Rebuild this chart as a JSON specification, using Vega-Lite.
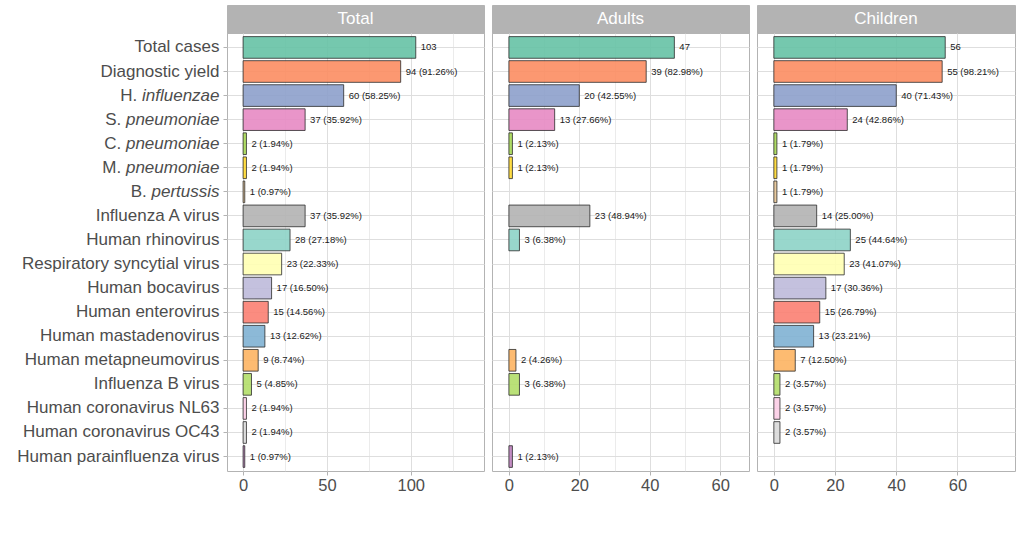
{
  "$schema": "https://vega.github.io/schema/vega-lite/v6.json",
  "padding": {"left": 16, "top": 4, "right": 5, "bottom": 5},
  "background": "white",
  "config": {
    "font": "Liberation Sans",
    "view": {"stroke": "#b3b3b3", "strokeWidth": 1},
    "axis": {"labelFont": "Liberation Sans", "labelFontSize": 16.5, "labelColor": "#4d4d4d", "tickColor": "#b3b3b3", "tickSize": 4, "domain": false, "gridColor": "#dedede", "title": null}
  },
  "datasets": {
    "d": [
      {"group": "Total", "cat": "Total cases", "n": 103, "label": "103"},
      {"group": "Total", "cat": "Diagnostic yield", "n": 94, "label": "94 (91.26%)"},
      {"group": "Total", "cat": "H. influenzae", "n": 60, "label": "60 (58.25%)"},
      {"group": "Total", "cat": "S. pneumoniae", "n": 37, "label": "37 (35.92%)"},
      {"group": "Total", "cat": "C. pneumoniae", "n": 2, "label": "2 (1.94%)"},
      {"group": "Total", "cat": "M. pneumoniae", "n": 2, "label": "2 (1.94%)"},
      {"group": "Total", "cat": "B. pertussis", "n": 1, "label": "1 (0.97%)"},
      {"group": "Total", "cat": "Influenza A virus", "n": 37, "label": "37 (35.92%)"},
      {"group": "Total", "cat": "Human rhinovirus", "n": 28, "label": "28 (27.18%)"},
      {"group": "Total", "cat": "Respiratory syncytial virus", "n": 23, "label": "23 (22.33%)"},
      {"group": "Total", "cat": "Human bocavirus", "n": 17, "label": "17 (16.50%)"},
      {"group": "Total", "cat": "Human enterovirus", "n": 15, "label": "15 (14.56%)"},
      {"group": "Total", "cat": "Human mastadenovirus", "n": 13, "label": "13 (12.62%)"},
      {"group": "Total", "cat": "Human metapneumovirus", "n": 9, "label": "9 (8.74%)"},
      {"group": "Total", "cat": "Influenza B virus", "n": 5, "label": "5 (4.85%)"},
      {"group": "Total", "cat": "Human coronavirus NL63", "n": 2, "label": "2 (1.94%)"},
      {"group": "Total", "cat": "Human coronavirus OC43", "n": 2, "label": "2 (1.94%)"},
      {"group": "Total", "cat": "Human parainfluenza virus", "n": 1, "label": "1 (0.97%)"},
      {"group": "Adults", "cat": "Total cases", "n": 47, "label": "47"},
      {"group": "Adults", "cat": "Diagnostic yield", "n": 39, "label": "39 (82.98%)"},
      {"group": "Adults", "cat": "H. influenzae", "n": 20, "label": "20 (42.55%)"},
      {"group": "Adults", "cat": "S. pneumoniae", "n": 13, "label": "13 (27.66%)"},
      {"group": "Adults", "cat": "C. pneumoniae", "n": 1, "label": "1 (2.13%)"},
      {"group": "Adults", "cat": "M. pneumoniae", "n": 1, "label": "1 (2.13%)"},
      {"group": "Adults", "cat": "Influenza A virus", "n": 23, "label": "23 (48.94%)"},
      {"group": "Adults", "cat": "Human rhinovirus", "n": 3, "label": "3 (6.38%)"},
      {"group": "Adults", "cat": "Human metapneumovirus", "n": 2, "label": "2 (4.26%)"},
      {"group": "Adults", "cat": "Influenza B virus", "n": 3, "label": "3 (6.38%)"},
      {"group": "Adults", "cat": "Human parainfluenza virus", "n": 1, "label": "1 (2.13%)"},
      {"group": "Children", "cat": "Total cases", "n": 56, "label": "56"},
      {"group": "Children", "cat": "Diagnostic yield", "n": 55, "label": "55 (98.21%)"},
      {"group": "Children", "cat": "H. influenzae", "n": 40, "label": "40 (71.43%)"},
      {"group": "Children", "cat": "S. pneumoniae", "n": 24, "label": "24 (42.86%)"},
      {"group": "Children", "cat": "C. pneumoniae", "n": 1, "label": "1 (1.79%)"},
      {"group": "Children", "cat": "M. pneumoniae", "n": 1, "label": "1 (1.79%)"},
      {"group": "Children", "cat": "B. pertussis", "n": 1, "label": "1 (1.79%)"},
      {"group": "Children", "cat": "Influenza A virus", "n": 14, "label": "14 (25.00%)"},
      {"group": "Children", "cat": "Human rhinovirus", "n": 25, "label": "25 (44.64%)"},
      {"group": "Children", "cat": "Respiratory syncytial virus", "n": 23, "label": "23 (41.07%)"},
      {"group": "Children", "cat": "Human bocavirus", "n": 17, "label": "17 (30.36%)"},
      {"group": "Children", "cat": "Human enterovirus", "n": 15, "label": "15 (26.79%)"},
      {"group": "Children", "cat": "Human mastadenovirus", "n": 13, "label": "13 (23.21%)"},
      {"group": "Children", "cat": "Human metapneumovirus", "n": 7, "label": "7 (12.50%)"},
      {"group": "Children", "cat": "Influenza B virus", "n": 2, "label": "2 (3.57%)"},
      {"group": "Children", "cat": "Human coronavirus NL63", "n": 2, "label": "2 (3.57%)"},
      {"group": "Children", "cat": "Human coronavirus OC43", "n": 2, "label": "2 (3.57%)"}
    ],
    "strips": [{"panel": "Total"}, {"panel": "Adults"}, {"panel": "Children"}]
  },
  "hconcat": [
    {
      "vconcat": [
        {
          "width": 257, "height": 28,
          "view": {"fill": "#b3b3b3", "stroke": "#b3b3b3"},
          "data": {"name": "strips"},
          "transform": [{"filter": "datum.panel == 'Total'"}],
          "mark": {"type": "text", "color": "white", "fontSize": 17, "font": "Liberation Sans", "baseline": "middle"},
          "encoding": {"text": {"field": "panel", "type": "nominal"}}
        },
        {
          "width": 257, "height": 438,
          "data": {"name": "d"},
          "transform": [{"filter": "datum.group == 'Total'"}],
          "layer": [
            {
              "mark": {"type": "bar", "stroke": "#2b2b2b", "strokeWidth": 0.8, "fillOpacity": 0.9},
              "encoding": {
                "y": {"field": "cat", "type": "nominal",
                  "scale": {"domain": ["Total cases","Diagnostic yield","H. influenzae","S. pneumoniae","C. pneumoniae","M. pneumoniae","B. pertussis","Influenza A virus","Human rhinovirus","Respiratory syncytial virus","Human bocavirus","Human enterovirus","Human mastadenovirus","Human metapneumovirus","Influenza B virus","Human coronavirus NL63","Human coronavirus OC43","Human parainfluenza virus"], "paddingInner": 0.1, "paddingOuter": 0.15},
                  "axis": {"orient": "left", "grid": true, "gridWidth": 1, "labelPadding": 4, "labelLimit": 400, "labelFontSize": 17,
                    "labelExpr": "indexof(['H. influenzae','S. pneumoniae','C. pneumoniae','M. pneumoniae','B. pertussis'], datum.value) >= 0 ? substring(datum.value, 3) : datum.value",
                    "labelFontStyle": {"condition": {"test": "indexof(['H. influenzae','S. pneumoniae','C. pneumoniae','M. pneumoniae','B. pertussis'], datum.value) >= 0", "value": "italic"}, "value": "normal"}}},
                "x": {"field": "n", "type": "quantitative",
                  "scale": {"domain": [-9.6, 143.7], "nice": false, "zero": false},
                  "axis": {"values": [0, 25, 50, 75, 100, 125], "grid": true, "labelPadding": 2,
                    "labelExpr": "datum.value % 50 == 0 ? datum.label : ''",
                    "gridWidth": {"condition": {"test": "datum.value % 50 != 0", "value": 0.6}, "value": 1},
                    "tickOpacity": {"condition": {"test": "datum.value % 50 != 0", "value": 0}, "value": 1}}},
                "x2": {"datum": 0},
                "color": {"field": "cat", "type": "nominal", "legend": null,
                  "scale": {"domain": ["Total cases","Diagnostic yield","H. influenzae","S. pneumoniae","C. pneumoniae","M. pneumoniae","B. pertussis","Influenza A virus","Human rhinovirus","Respiratory syncytial virus","Human bocavirus","Human enterovirus","Human mastadenovirus","Human metapneumovirus","Influenza B virus","Human coronavirus NL63","Human coronavirus OC43","Human parainfluenza virus"],
                    "range": ["#66c2a5","#fc8d62","#8da0cb","#e78ac3","#a6d854","#ffd92f","#e5c494","#b3b3b3","#8dd3c7","#ffffb3","#bebada","#fb8072","#80b1d3","#fdb462","#b3de69","#fccde5","#d9d9d9","#bc80bd"]}}
              }
            },
            {
              "mark": {"type": "text", "align": "left", "baseline": "middle", "dx": 5, "fontSize": 9.5, "font": "Liberation Sans", "color": "#1a1a1a"},
              "encoding": {
                "y": {"field": "cat", "type": "nominal",
                  "axis": {"orient": "left", "grid": false, "tickOpacity": 0, "labelLimit": 100, "labelFontSize": 17,
                    "labelExpr": "indexof(['H. influenzae','S. pneumoniae','C. pneumoniae','M. pneumoniae','B. pertussis'], datum.value) >= 0 ? substring(datum.value, 0, 2) : ''",
                    "labelPadding": {"condition": [
                      {"test": "datum.value == 'H. influenzae'", "value": 86.2},
                      {"test": "datum.value == 'B. pertussis'", "value": 76.7}
                    ], "value": 102.3}}},
                "x": {"field": "n", "type": "quantitative"},
                "text": {"field": "label", "type": "nominal"}
              }
            }
          ],
          "resolve": {"axis": {"y": "independent"}}
        }
      ],
      "spacing": 0,
      "bounds": "flush"
    },
    {
      "vconcat": [
        {
          "width": 257, "height": 28,
          "view": {"fill": "#b3b3b3", "stroke": "#b3b3b3"},
          "data": {"name": "strips"},
          "transform": [{"filter": "datum.panel == 'Adults'"}],
          "mark": {"type": "text", "color": "white", "fontSize": 17, "font": "Liberation Sans", "baseline": "middle"},
          "encoding": {"text": {"field": "panel", "type": "nominal"}}
        },
        {
          "width": 257, "height": 438,
          "data": {"name": "d"},
          "transform": [{"filter": "datum.group == 'Adults'"}],
          "layer": [
            {
              "mark": {"type": "bar", "stroke": "#2b2b2b", "strokeWidth": 0.8, "fillOpacity": 0.9},
              "encoding": {
                "y": {"field": "cat", "type": "nominal",
                  "scale": {"domain": ["Total cases","Diagnostic yield","H. influenzae","S. pneumoniae","C. pneumoniae","M. pneumoniae","B. pertussis","Influenza A virus","Human rhinovirus","Respiratory syncytial virus","Human bocavirus","Human enterovirus","Human mastadenovirus","Human metapneumovirus","Influenza B virus","Human coronavirus NL63","Human coronavirus OC43","Human parainfluenza virus"], "paddingInner": 0.1, "paddingOuter": 0.15},
                  "axis": {"grid": true, "gridWidth": 1, "labels": false, "ticks": false}},
                "x": {"field": "n", "type": "quantitative",
                  "scale": {"domain": [-4.8, 68.2], "nice": false, "zero": false},
                  "axis": {"values": [0, 10, 20, 30, 40, 50, 60], "grid": true, "labelPadding": 2,
                    "labelExpr": "datum.value % 20 == 0 ? datum.label : ''",
                    "gridWidth": {"condition": {"test": "datum.value % 20 != 0", "value": 0.6}, "value": 1},
                    "tickOpacity": {"condition": {"test": "datum.value % 20 != 0", "value": 0}, "value": 1}}},
                "x2": {"datum": 0},
                "color": {"field": "cat", "type": "nominal", "legend": null,
                  "scale": {"domain": ["Total cases","Diagnostic yield","H. influenzae","S. pneumoniae","C. pneumoniae","M. pneumoniae","B. pertussis","Influenza A virus","Human rhinovirus","Respiratory syncytial virus","Human bocavirus","Human enterovirus","Human mastadenovirus","Human metapneumovirus","Influenza B virus","Human coronavirus NL63","Human coronavirus OC43","Human parainfluenza virus"],
                    "range": ["#66c2a5","#fc8d62","#8da0cb","#e78ac3","#a6d854","#ffd92f","#e5c494","#b3b3b3","#8dd3c7","#ffffb3","#bebada","#fb8072","#80b1d3","#fdb462","#b3de69","#fccde5","#d9d9d9","#bc80bd"]}}
              }
            },
            {
              "mark": {"type": "text", "align": "left", "baseline": "middle", "dx": 5, "fontSize": 9.5, "font": "Liberation Sans", "color": "#1a1a1a"},
              "encoding": {
                "y": {"field": "cat", "type": "nominal"},
                "x": {"field": "n", "type": "quantitative"},
                "text": {"field": "label", "type": "nominal"}
              }
            }
          ]
        }
      ],
      "spacing": 0,
      "bounds": "flush"
    },
    {
      "vconcat": [
        {
          "width": 258, "height": 28,
          "view": {"fill": "#b3b3b3", "stroke": "#b3b3b3"},
          "data": {"name": "strips"},
          "transform": [{"filter": "datum.panel == 'Children'"}],
          "mark": {"type": "text", "color": "white", "fontSize": 17, "font": "Liberation Sans", "baseline": "middle"},
          "encoding": {"text": {"field": "panel", "type": "nominal"}}
        },
        {
          "width": 258, "height": 438,
          "data": {"name": "d"},
          "transform": [{"filter": "datum.group == 'Children'"}],
          "layer": [
            {
              "mark": {"type": "bar", "stroke": "#2b2b2b", "strokeWidth": 0.8, "fillOpacity": 0.9},
              "encoding": {
                "y": {"field": "cat", "type": "nominal",
                  "scale": {"domain": ["Total cases","Diagnostic yield","H. influenzae","S. pneumoniae","C. pneumoniae","M. pneumoniae","B. pertussis","Influenza A virus","Human rhinovirus","Respiratory syncytial virus","Human bocavirus","Human enterovirus","Human mastadenovirus","Human metapneumovirus","Influenza B virus","Human coronavirus NL63","Human coronavirus OC43","Human parainfluenza virus"], "paddingInner": 0.1, "paddingOuter": 0.15},
                  "axis": {"grid": true, "gridWidth": 1, "labels": false, "ticks": false}},
                "x": {"field": "n", "type": "quantitative",
                  "scale": {"domain": [-5.5, 78.8], "nice": false, "zero": false},
                  "axis": {"values": [0, 10, 20, 30, 40, 50, 60, 70], "grid": true, "labelPadding": 2,
                    "labelExpr": "datum.value % 20 == 0 ? datum.label : ''",
                    "gridWidth": {"condition": {"test": "datum.value % 20 != 0", "value": 0.6}, "value": 1},
                    "tickOpacity": {"condition": {"test": "datum.value % 20 != 0", "value": 0}, "value": 1}}},
                "x2": {"datum": 0},
                "color": {"field": "cat", "type": "nominal", "legend": null,
                  "scale": {"domain": ["Total cases","Diagnostic yield","H. influenzae","S. pneumoniae","C. pneumoniae","M. pneumoniae","B. pertussis","Influenza A virus","Human rhinovirus","Respiratory syncytial virus","Human bocavirus","Human enterovirus","Human mastadenovirus","Human metapneumovirus","Influenza B virus","Human coronavirus NL63","Human coronavirus OC43","Human parainfluenza virus"],
                    "range": ["#66c2a5","#fc8d62","#8da0cb","#e78ac3","#a6d854","#ffd92f","#e5c494","#b3b3b3","#8dd3c7","#ffffb3","#bebada","#fb8072","#80b1d3","#fdb462","#b3de69","#fccde5","#d9d9d9","#bc80bd"]}}
              }
            },
            {
              "mark": {"type": "text", "align": "left", "baseline": "middle", "dx": 5, "fontSize": 9.5, "font": "Liberation Sans", "color": "#1a1a1a"},
              "encoding": {
                "y": {"field": "cat", "type": "nominal"},
                "x": {"field": "n", "type": "quantitative"},
                "text": {"field": "label", "type": "nominal"}
              }
            }
          ]
        }
      ],
      "spacing": 0,
      "bounds": "flush"
    }
  ],
  "spacing": 6
}
